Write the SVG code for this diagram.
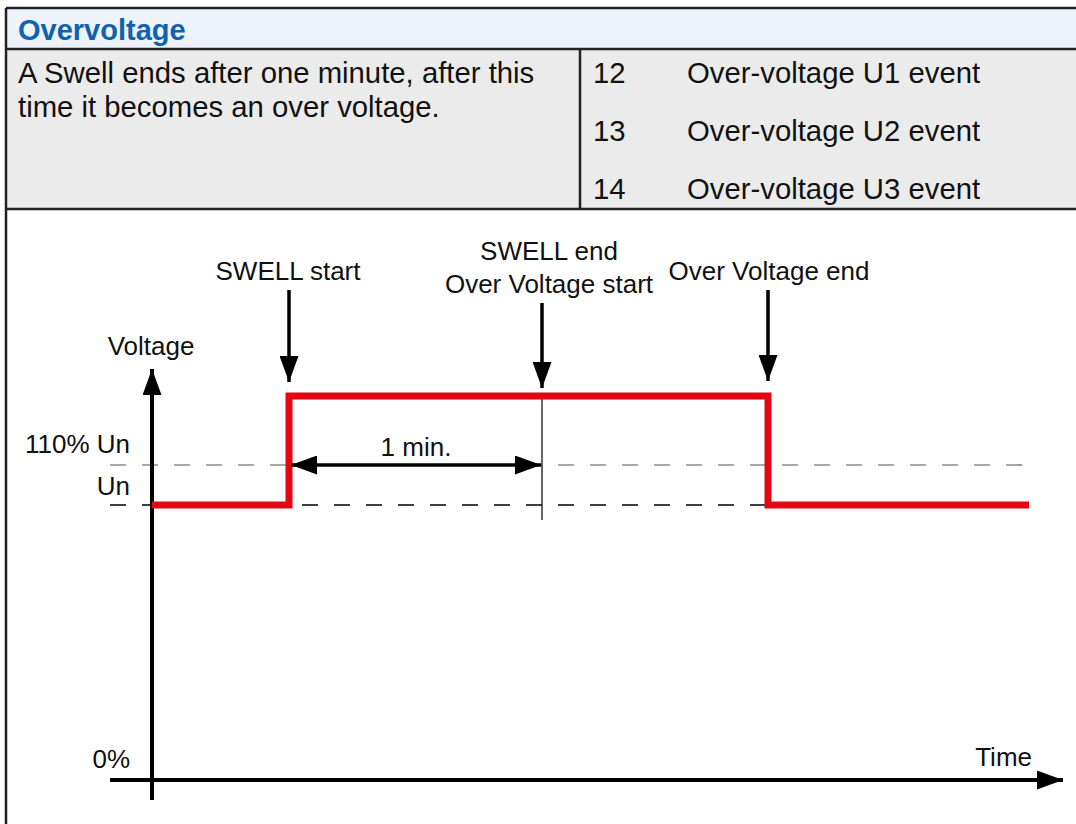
<svg xmlns="http://www.w3.org/2000/svg" width="1076" height="824" viewBox="0 0 1076 824">
<defs>
<style>
text{font-family:"Liberation Sans",Arial,sans-serif;fill:#111}
.t{font-size:29.3px}
.c{font-size:26px}
.h{font-size:29px;font-weight:bold;fill:#0F62AE}
.bd{stroke:#222;stroke-width:2.5;fill:none}
.ax{stroke:#000;stroke-width:4;fill:none}
.ar{stroke:#000;stroke-width:3.5;fill:none}
.dash{stroke-dasharray:16 16;fill:none}
</style>
<marker id="ah" viewBox="0 0 26 19" refX="26" refY="9.5" markerWidth="26" markerHeight="19" markerUnits="userSpaceOnUse" orient="auto-start-reverse">
<path d="M0,0 L26,9.5 L0,19 Z" fill="#000"/>
</marker>
</defs>
<rect width="1076" height="824" fill="#fff"/>
<g id="table">
<rect x="6" y="8" width="1080" height="41" fill="#EEF3FB"/>
<rect x="6" y="49" width="1080" height="160" fill="#EBEBEB"/>
<path class="bd" d="M6,8 H1080 M6,49 H1080 M6,209 H1080 M6,8 V824 M580,49 V209"/>
<text class="h" x="18" y="40">Overvoltage</text>
<text class="t" x="18" y="83">A Swell ends after one minute, after this</text>
<text class="t" x="18" y="117">time it becomes an over voltage.</text>
<text class="t" x="593" y="83">12</text>
<text class="t" x="687" y="83">Over-voltage U1 event</text>
<text class="t" x="593" y="141">13</text>
<text class="t" x="687" y="141">Over-voltage U2 event</text>
<text class="t" x="593" y="199">14</text>
<text class="t" x="687" y="199">Over-voltage U3 event</text>
</g>
<g id="grid">
<path class="dash" d="M110,465 H1030" stroke="#555" stroke-width="1.2"/>
<path class="dash" d="M110,505 H1030" stroke="#000" stroke-width="1.6"/>
<path d="M542,398 V520" stroke="#000" stroke-width="1.2"/>
</g>
<g id="axes">
<path class="ax" d="M152,800 V369" marker-end="url(#ah)"/>
<path class="ax" d="M110,780 H1063" marker-end="url(#ah)"/>
<text class="c" x="151" y="355" text-anchor="middle">Voltage</text>
<text class="c" x="130" y="453" text-anchor="end">110% Un</text>
<text class="c" x="130" y="495" text-anchor="end">Un</text>
<text class="c" x="130" y="768" text-anchor="end">0%</text>
<text class="c" x="1032" y="766" text-anchor="end">Time</text>
</g>
<g id="signal">
<path d="M152,505 H289 V396 H768 V505 H1029" stroke="#E30613" stroke-width="7" fill="none"/>
</g>
<g id="connectors">
<path class="ar" d="M289,290 V382" marker-end="url(#ah)"/>
<path class="ar" d="M542,303 V388" marker-end="url(#ah)"/>
<path class="ar" d="M768,290 V381" marker-end="url(#ah)"/>
<path class="ar" d="M291,465 H541" marker-start="url(#ah)" marker-end="url(#ah)"/>
</g>
<g id="labels">
<text class="c" x="288" y="280" text-anchor="middle">SWELL start</text>
<text class="c" x="549" y="260" text-anchor="middle">SWELL end</text>
<text class="c" x="549" y="293" text-anchor="middle">Over Voltage start</text>
<text class="c" x="769" y="280" text-anchor="middle">Over Voltage end</text>
<text class="c" x="416" y="456" text-anchor="middle">1 min.</text>
</g>
</svg>
